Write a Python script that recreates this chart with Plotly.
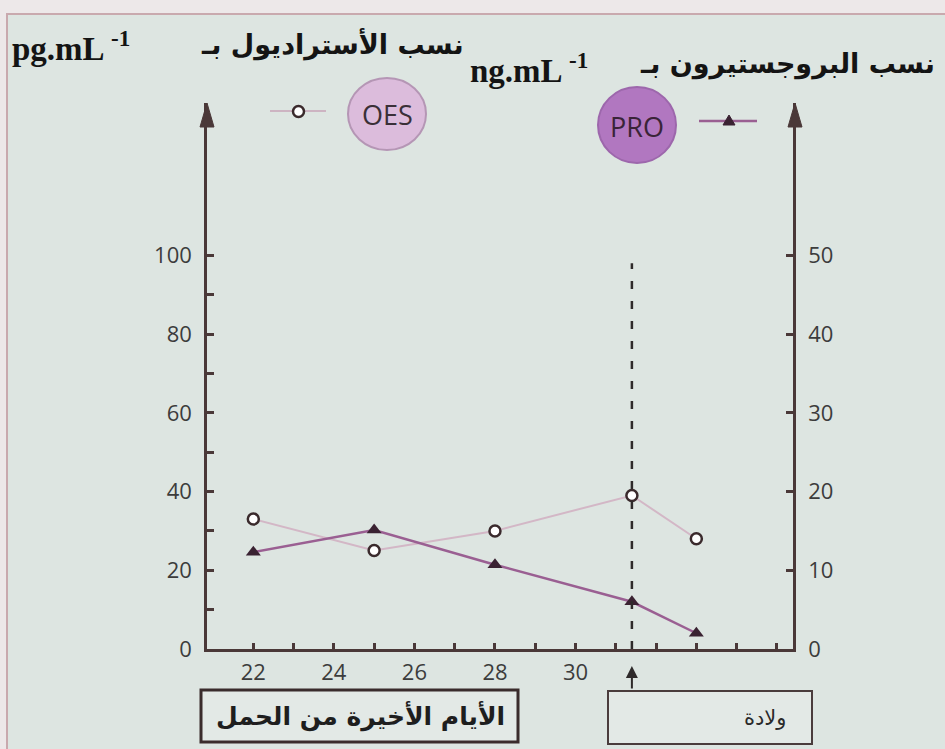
import plotly.graph_objects as go

# Days of late pregnancy and measured hormone levels
days = [22, 25, 28, 31.4, 33]
oes_levels = [33, 25, 30, 39, 28]          # oestradiol, pg/mL (left axis)
pro_levels = [12.3, 15.1, 10.7, 6.0, 2.0]  # progesterone, ng/mL (right axis)
birth_day = 31.4

x_tickvals = list(range(22, 36))
x_ticktext = ["22", "", "24", "", "26", "", "28", "", "30", "", "", "", "", ""]
left_tickvals = list(range(0, 101, 10))
left_ticktext = ["0", "", "20", "", "40", "", "60", "", "80", "", "100"]
right_tickvals = list(range(0, 51, 10))
right_ticktext = ["0", "10", "20", "30", "40", "50"]

W, H = 945, 749
BG = "#dde5e1"
AXIS = "#4a3838"
TICKFONT = dict(family="Open Sans", size=22, color="#3c3c3c")


def px(x):
    return x / W


def py(y):
    return 1 - y / H


def label(x, y, text, font, xanchor="center"):
    return dict(x=px(x), y=py(y), xref="paper", yref="paper", text=text,
                showarrow=False, xanchor=xanchor, yanchor="middle", font=font)


fig = go.Figure()

fig.add_trace(go.Scatter(
    x=days, y=oes_levels, name="OES", mode="lines+markers",
    line=dict(color="#d3b7c6", width=2),
    marker=dict(symbol="circle", size=11, color="#ffffff",
                line=dict(color="#3a2a2c", width=2.5)),
    yaxis="y", showlegend=False,
))
fig.add_trace(go.Scatter(
    x=days, y=pro_levels, name="PRO", mode="lines+markers",
    line=dict(color="#9a5f92", width=2.5),
    marker=dict(symbol="triangle-up", size=13, color="#3a2232"),
    yaxis="y2", showlegend=False,
))

shapes = []

# frame of the sheet
shapes.append(dict(type="rect", xref="paper", yref="paper",
                   x0=px(7), x1=1.02, y0=-0.02, y1=py(14),
                   line=dict(color="#c9a9ae", width=2), fillcolor=BG, layer="below"))

# dashed line marking birth
shapes.append(dict(type="line", xref="x", yref="y", x0=birth_day, x1=birth_day,
                   y0=0, y1=98, line=dict(color="#2e2a2a", width=2.5, dash="8px,12px")))

# arrowheads on both vertical axes
for xa, tip in [(207, 103), (795, 103)]:
    shapes.append(dict(type="path", xref="paper", yref="paper",
                       path=f"M {px(xa)} {py(tip)} L {px(xa - 7)} {py(tip + 24)} "
                            f"L {px(xa + 7)} {py(tip + 24)} Z",
                       fillcolor=AXIS, line=dict(color=AXIS, width=1)))

# legend keys
shapes.append(dict(type="circle", xref="paper", yref="paper",
                   x0=px(348), x1=px(426), y0=py(150), y1=py(78),
                   fillcolor="#dcbcdc", line=dict(color="#b596b5", width=2)))
shapes.append(dict(type="circle", xref="paper", yref="paper",
                   x0=px(598), x1=px(676), y0=py(163), y1=py(87),
                   fillcolor="#b177c0", line=dict(color="#9d67ac", width=2)))
shapes.append(dict(type="line", xref="paper", yref="paper",
                   x0=px(270), x1=px(326), y0=py(111), y1=py(111),
                   line=dict(color="#cdb4c2", width=2)))
shapes.append(dict(type="circle", xref="paper", yref="paper",
                   x0=px(293), x1=px(304), y0=py(117), y1=py(106),
                   fillcolor="#ffffff", line=dict(color="#3a2a2c", width=2.5)))
shapes.append(dict(type="line", xref="paper", yref="paper",
                   x0=px(699), x1=px(757), y0=py(121), y1=py(121),
                   line=dict(color="#9a5f92", width=2.5)))
shapes.append(dict(type="path", xref="paper", yref="paper",
                   path=f"M {px(729)} {py(115)} L {px(723)} {py(125)} L {px(735)} {py(125)} Z",
                   fillcolor="#3a2232", line=dict(color="#3a2232", width=1)))

# label boxes under the time axis
shapes.append(dict(type="rect", xref="paper", yref="paper",
                   x0=px(201), x1=px(518), y0=py(742), y1=py(690),
                   fillcolor="#e3e9e6", line=dict(color="#3a2c2c", width=3)))
shapes.append(dict(type="rect", xref="paper", yref="paper",
                   x0=px(608), x1=px(812), y0=py(744), y1=py(691),
                   fillcolor="#e3e9e6", line=dict(color="#4a3c3c", width=2)))

serif_bold = dict(family="Liberation Serif", size=33, color="#141414", weight="bold")
arabic_bold = dict(family="DejaVu Sans", size=27, color="#141414", weight="bold")

annotations = [
    label(387, 114, "OES", dict(family="Open Sans", size=27, color="#3a3038")),
    label(637, 126, "PRO", dict(family="Open Sans", size=27, color="#3a2438")),
    # axis titles
    label(10, 46, "pg.mL <sup>-1</sup>", serif_bold, xanchor="left"),
    label(466, 44, "نسب الأستراديول بـ", arabic_bold, xanchor="right"),
    label(468, 68, "ng.mL <sup>-1</sup>", serif_bold, xanchor="left"),
    label(937, 64, "نسب البروجستيرون بـ", arabic_bold, xanchor="right"),
    # box captions
    label(360, 716, "الأيام الأخيرة من الحمل",
          dict(family="DejaVu Sans", size=25, color="#1e1e1e", weight="bold")),
    label(765, 718, "ولادة", dict(family="DejaVu Sans", size=21, color="#2a2a2a")),
    # arrow from the birth box up to the time axis
    dict(x=birth_day, y=py(666), xref="x", yref="paper", text="", showarrow=True,
         ax=0, ay=24, arrowhead=2, arrowsize=1.2, arrowwidth=2, arrowcolor="#2e2a2a"),
]

fig.update_layout(
    width=W, height=H,
    margin=dict(l=0, r=0, t=0, b=0),
    paper_bgcolor="#ede8e9",
    plot_bgcolor="rgba(0,0,0,0)",
    shapes=shapes,
    annotations=annotations,
    showlegend=False,
    xaxis=dict(
        domain=[px(207), px(793)], range=[20.85, 35.4], automargin=False,
        tickvals=x_tickvals, ticktext=x_ticktext, ticks="inside", ticklen=6,
        tickwidth=2.5, tickcolor=AXIS, showline=True, linecolor=AXIS, linewidth=2.5,
        showgrid=False, zeroline=False, tickfont=TICKFONT, ticklabelstandoff=2,
    ),
    yaxis=dict(
        domain=[py(649), py(103)], range=[0, 138.7], automargin=False,
        tickvals=left_tickvals, ticktext=left_ticktext, ticks="inside", ticklen=7,
        tickwidth=2.5, tickcolor=AXIS, showline=True, linecolor=AXIS, linewidth=2.5,
        showgrid=False, zeroline=False, tickfont=TICKFONT, ticklabelstandoff=8,
    ),
    yaxis2=dict(
        domain=[py(649), py(103)], range=[0, 69.35], overlaying="y", side="right",
        anchor="x", automargin=False, tickvals=right_tickvals, ticktext=right_ticktext,
        ticks="inside", ticklen=7, tickwidth=2.5, tickcolor=AXIS, showline=True,
        linecolor=AXIS, linewidth=2.5, showgrid=False, zeroline=False,
        tickfont=TICKFONT, ticklabelstandoff=8,
    ),
)

fig.write_html("out.html")
